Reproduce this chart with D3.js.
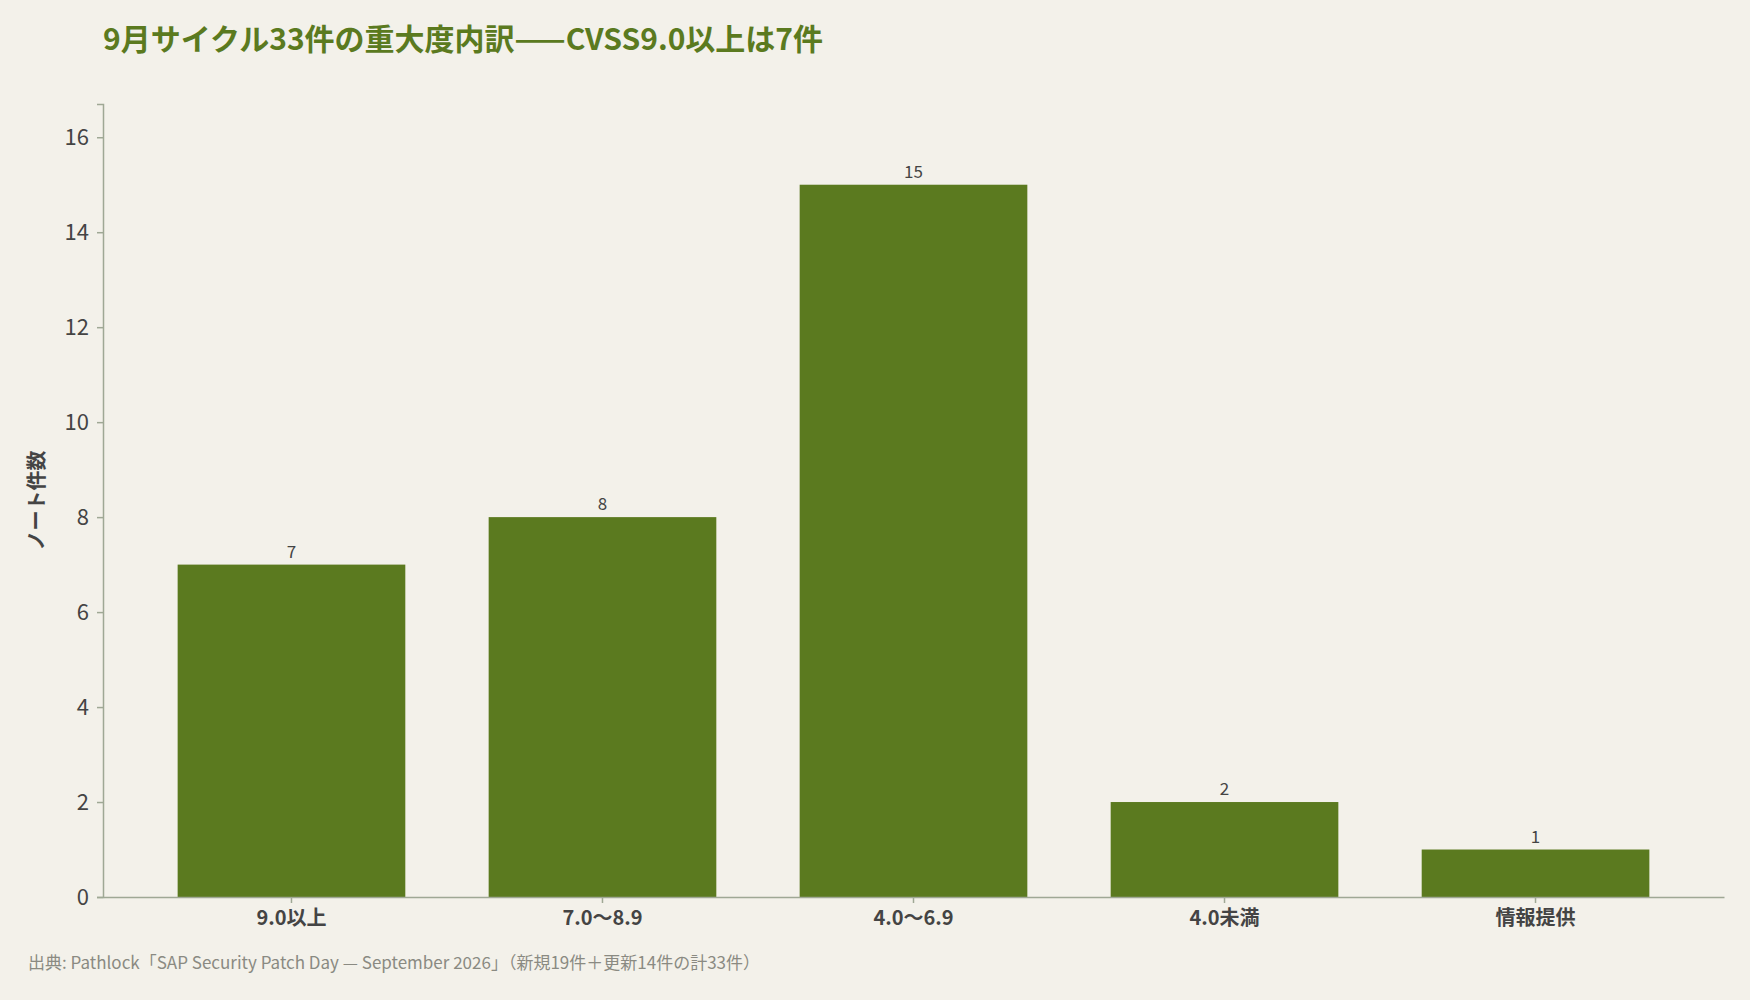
<!DOCTYPE html>
<html><head><meta charset="utf-8">
<script src="https://cdn.jsdelivr.net/npm/d3@7"></script>
<style>
body{margin:0;background:#f3f1ea;font-family:"Noto Sans CJK JP","Noto Sans",sans-serif;}
</style></head>
<body><svg id="chart" width="1750" height="1000"></svg>
<script>
// data
var categories = ["9.0以上", "7.0〜8.9", "4.0〜6.9", "4.0未満", "情報提供"];
var counts = [7, 8, 15, 2, 1];
var yTicks = [0, 2, 4, 6, 8, 10, 12, 14, 16];

var W = 1750, H = 1000;
var margin = {top: 104, right: 26, bottom: 103, left: 103};
var barColor = "#5b7a1f", axisColor = "#9fa895", textColor = "#444";

var svg = d3.select("#chart");
svg.append("rect").attr("width", W).attr("height", H).attr("fill", "#f3f1ea");

var x = d3.scaleBand()
  .domain(categories)
  .range([margin.left, W - margin.right])
  .paddingInner(0.268)
  .paddingOuter(0.24);

var y = d3.scaleLinear()
  .domain([0, 16.7])
  .range([H - margin.bottom, margin.top]);

svg.append("g").selectAll("rect")
  .data(counts)
  .join("rect")
  .attr("x", (d, i) => x(categories[i]))
  .attr("y", d => y(d))
  .attr("width", x.bandwidth())
  .attr("height", d => y(0) - y(d))
  .attr("fill", barColor);

// value labels
svg.append("g").selectAll("text")
  .data(counts)
  .join("text")
  .attr("x", (d, i) => x(categories[i]) + x.bandwidth() / 2)
  .attr("y", d => y(d) - 7)
  .attr("text-anchor", "middle")
  .attr("font-size", "17px")
  .attr("fill", textColor)
  .text(d => d);

// axes
var yAxis = svg.append("g")
  .attr("transform", `translate(${margin.left},0)`)
  .call(d3.axisLeft(y).tickValues(yTicks).tickSize(6).tickPadding(8));
yAxis.selectAll("text").attr("font-size", "22px").attr("fill", textColor)
  .attr("font-family", "'Noto Sans CJK JP', sans-serif");

var xAxis = svg.append("g")
  .attr("transform", `translate(0,${H - margin.bottom})`)
  .call(d3.axisBottom(x).tickSize(6).tickPadding(8).tickSizeOuter(0));
xAxis.selectAll("text").attr("font-size", "20px").attr("font-weight", "bold")
  .attr("fill", textColor).attr("font-family", "'Noto Sans CJK JP', sans-serif");

svg.selectAll(".domain, .tick line").attr("stroke", axisColor).attr("stroke-width", 1.5);

// y axis title
svg.append("text")
  .attr("transform", `translate(44,${(margin.top + H - margin.bottom) / 2}) rotate(-90)`)
  .attr("text-anchor", "middle")
  .attr("font-size", "20px").attr("font-weight", "bold")
  .attr("fill", textColor)
  .text("ノート件数");

// title
svg.append("text")
  .attr("x", 103).attr("y", 50)
  .attr("font-size", "30px").attr("font-weight", "bold")
  .attr("fill", barColor)
  .text("9月サイクル33件の重大度内訳——CVSS9.0以上は7件");

// source
svg.append("text")
  .attr("x", 28).attr("y", 969)
  .attr("font-size", "17px")
  .attr("fill", "#8a8a82")
  .text("出典: Pathlock「SAP Security Patch Day — September 2026」（新規19件＋更新14件の計33件）");
</script>
</body></html>
